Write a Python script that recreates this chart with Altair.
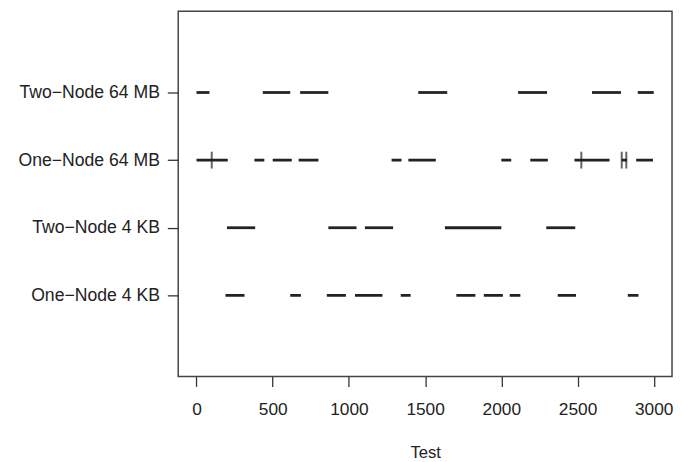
import altair as alt
import pandas as pd

# Category labels, positions 1 (bottom) .. 4 (top)
categories = ["One−Node 4 KB", "Two−Node 4 KB", "One−Node 64 MB", "Two−Node 64 MB"]
positions = [1, 2, 3, 4]

# Interval start/end values per category
two_node_64mb_start = [0, 435, 680, 1455, 2110, 2595, 2895]
two_node_64mb_end   = [85, 615, 865, 1645, 2300, 2785, 3000]

one_node_64mb_start = [0, 380, 500, 670, 1280, 1390, 2000, 2190, 2480, 2790, 2885]
one_node_64mb_end   = [205, 445, 625, 800, 1345, 1570, 2065, 2305, 2710, 2825, 2995]

two_node_4kb_start = [200, 865, 1105, 1630, 2295]
two_node_4kb_end   = [385, 1050, 1290, 2000, 2485]

one_node_4kb_start = [190, 615, 855, 1040, 1340, 1705, 1885, 2055, 2370, 2830]
one_node_4kb_end   = [315, 685, 980, 1220, 1405, 1830, 2010, 2125, 2490, 2900]

# Vertical marks on the One-Node 64 MB row
one_node_64mb_marks = [100, 2525, 2790, 2820]

x_ticks = [0, 500, 1000, 1500, 2000, 2500, 3000]

rows = []
for pos, s, e in [
    (4, two_node_64mb_start, two_node_64mb_end),
    (3, one_node_64mb_start, one_node_64mb_end),
    (2, two_node_4kb_start, two_node_4kb_end),
    (1, one_node_4kb_start, one_node_4kb_end),
]:
    for a, b in zip(s, e):
        rows.append({"pos": pos, "start": a, "end": b})
seg_df = pd.DataFrame(rows)
mark_df = pd.DataFrame({"pos": [3] * len(one_node_64mb_marks), "value": one_node_64mb_marks})

label_map = "{" + ", ".join(f"'{p}': '{c}'" for p, c in zip(positions, categories)) + "}"

FONT = "Liberation Sans"

x_scale = alt.Scale(domain=[-120, 3120], nice=False, zero=False)
y_scale = alt.Scale(domain=[-0.2, 5.2], nice=False, zero=False)

segs = alt.Chart(seg_df).mark_rule(strokeWidth=2.8, color="#222", strokeCap="butt").encode(
    x=alt.X("start:Q", scale=x_scale,
            axis=alt.Axis(title="Test", values=x_ticks, format="d", domain=False,
                          grid=False, tickSize=10, tickColor="#333", tickWidth=1.3,
                          labelFont=FONT, labelFontSize=17.5, labelColor="#222",
                          labelBaseline="alphabetic", labelPadding=28.5,
                          labelFlush=False, labelOverlap=False,
                          titleFont=FONT, titleFontSize=16.8, titleFontWeight="normal",
                          titleColor="#222", titleBaseline="alphabetic", titleY=81.5)),
    x2="end:Q",
    y=alt.Y("pos:Q", scale=y_scale,
            axis=alt.Axis(title=None, values=positions, labelExpr=f"{label_map}[datum.value]",
                          domain=False, grid=False, tickSize=11,
                          tickColor="#333", tickWidth=1.3,
                          labelFont=FONT, labelFontSize=17.8, labelColor="#222",
                          labelPadding=8, labelLimit=300, labelFlush=False,
                          labelOverlap=False)),
)

ticks = alt.Chart(mark_df).mark_tick(size=17, thickness=2, color="#222", orient="vertical").encode(
    x=alt.X("value:Q", scale=x_scale),
    y=alt.Y("pos:Q", scale=y_scale),
)

chart = alt.layer(segs, ticks).properties(
    width=499, height=369,
    background="white",
    autosize=alt.AutoSizeParams(type="none"),
    padding={"left": 172, "top": 1, "right": 2, "bottom": 84},
).configure_view(stroke="#444", strokeWidth=1.5)

chart.save("out.html", embed_options={"renderer": "svg", "actions": False})
